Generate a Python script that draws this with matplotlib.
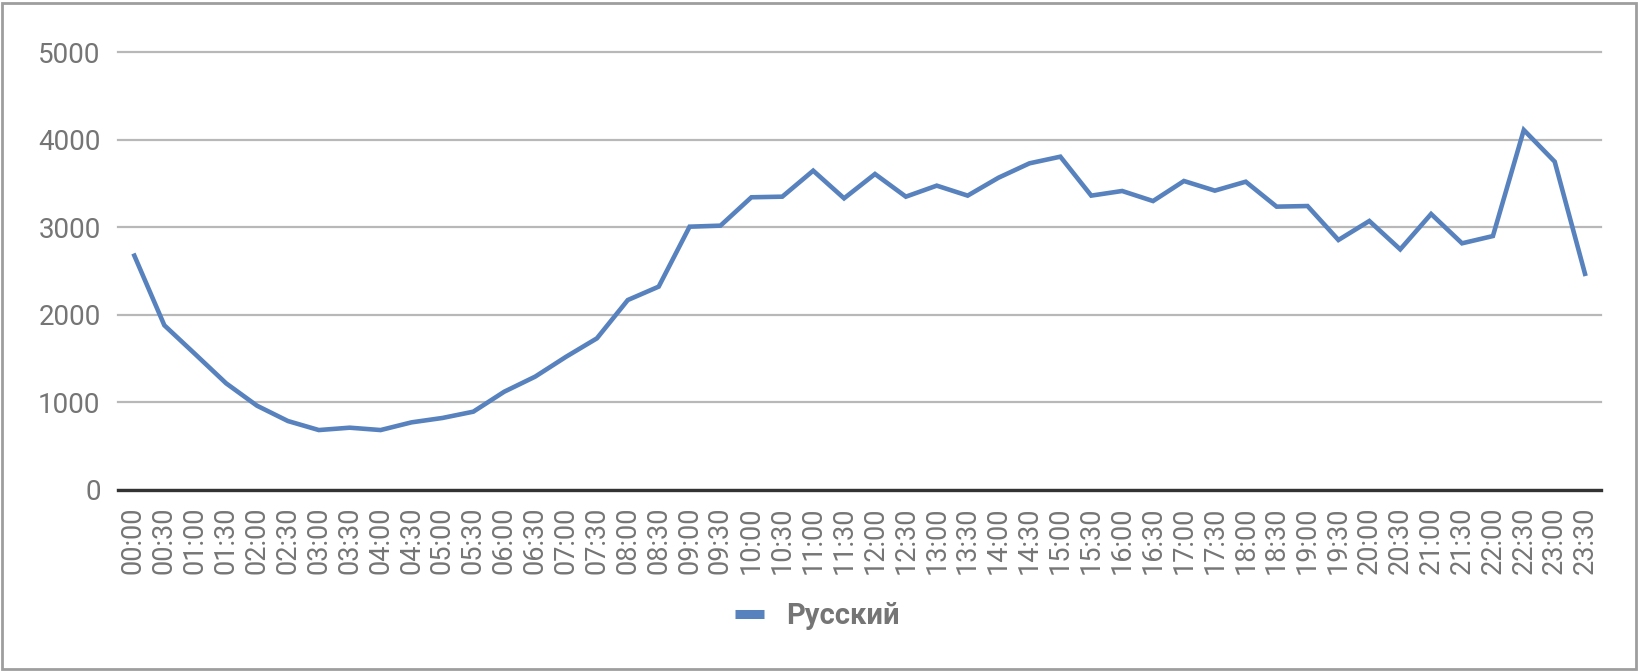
import matplotlib.pyplot as plt
from matplotlib.patches import Rectangle
from matplotlib.lines import Line2D

times = [
    "00:00", "00:30", "01:00", "01:30", "02:00", "02:30", "03:00", "03:30",
    "04:00", "04:30", "05:00", "05:30", "06:00", "06:30", "07:00", "07:30",
    "08:00", "08:30", "09:00", "09:30", "10:00", "10:30", "11:00", "11:30",
    "12:00", "12:30", "13:00", "13:30", "14:00", "14:30", "15:00", "15:30",
    "16:00", "16:30", "17:00", "17:30", "18:00", "18:30", "19:00", "19:30",
    "20:00", "20:30", "21:00", "21:30", "22:00", "22:30", "23:00", "23:30",
]
russian = [
    2700, 1880, 1550, 1217, 961, 786, 683, 710,
    683, 771, 821, 893, 1121, 1293, 1520, 1731,
    2169, 2322, 3007, 3019, 3343, 3350, 3647, 3331,
    3609, 3350, 3476, 3362, 3567, 3731, 3807, 3362,
    3415, 3300, 3529, 3419, 3521, 3236, 3243, 2855,
    3072, 2748, 3152, 2817, 2900, 4112, 3750, 2443,
]
series_name = "Русский"
y_ticks = [0, 1000, 2000, 3000, 4000, 5000]

LINE_COLOR = "#5882be"
TEXT_COLOR = "#757575"

plt.rcParams["font.family"] = ["Roboto", "DejaVu Sans"]

fig = plt.figure(figsize=(16.4, 6.72), dpi=100)
ax = fig.add_axes([0.07195, 0.2711, 0.9043, 0.6511])

x = list(range(len(times)))
ax.plot(x, russian, color=LINE_COLOR, linewidth=3.3,
        solid_joinstyle="miter", solid_capstyle="butt", zorder=3)

ax.set_xlim(-0.5, len(times) - 0.5)
ax.set_ylim(0, 5000)
ax.set_yticks(y_ticks)
ax.set_yticklabels([str(v) for v in y_ticks])
ax.set_xticks(x)
ax.set_xticklabels(times, rotation=90)

ax.grid(axis="y", color="#b8b8b8", linewidth=1.6, zorder=1)
ax.set_axisbelow(True)
for gl in ax.get_ygridlines():
    gl.set_clip_on(False)

for side in ["top", "right", "left"]:
    ax.spines[side].set_visible(False)
ax.spines["bottom"].set_color("#333333")
ax.spines["bottom"].set_linewidth(2.4)
ax.spines["bottom"].set_zorder(4)

ax.tick_params(axis="y", length=0, pad=12.5, labelsize=20, labelcolor=TEXT_COLOR)
ax.tick_params(axis="x", length=0, pad=12, labelsize=19.5, labelcolor=TEXT_COLOR)

handle = Line2D([], [], color=LINE_COLOR, linewidth=6.5, solid_capstyle="butt")
leg = fig.legend([handle], [series_name], loc="center",
                 bbox_to_anchor=(0.4985, 1 - 616 / 672), frameon=False,
                 handlelength=1.0, handletextpad=0.75,
                 prop={"size": 21, "weight": "bold"})
for t in leg.get_texts():
    t.set_color(TEXT_COLOR)

# outer chart border
fig.patches.append(Rectangle((0.0012, 0.0045), 0.9966, 0.991,
                             transform=fig.transFigure, fill=False,
                             edgecolor="#9e9e9e", linewidth=2.0))

plt.savefig("out.png", dpi=100)
plt.close()
